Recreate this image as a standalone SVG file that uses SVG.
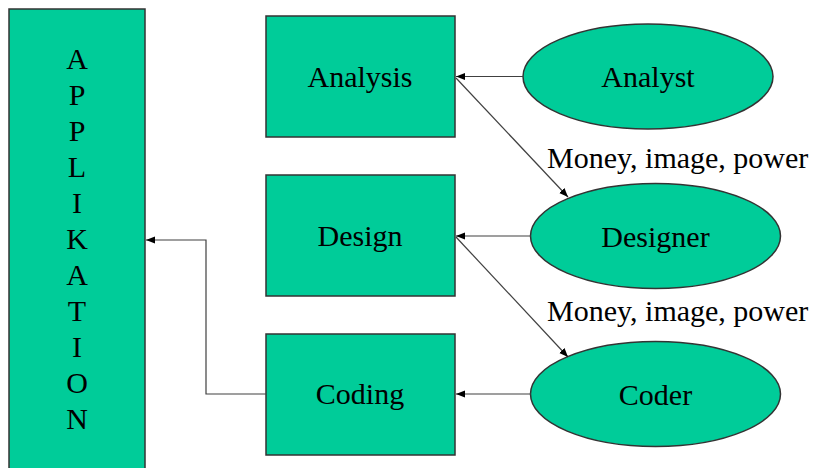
<svg xmlns="http://www.w3.org/2000/svg" width="814" height="468" viewBox="0 0 814 468">
  <style>
    .box { fill: #00CC99; stroke: #333333; stroke-width: 1.5; }
    .lbl { font-family: "Liberation Serif", "Times New Roman", serif; font-size: 30px; fill: #000000; text-anchor: middle; }
    .note { font-family: "Liberation Serif", "Times New Roman", serif; font-size: 30px; fill: #000000; }
    .link { fill: none; stroke: #404040; stroke-width: 1.2; marker-end: url(#head); }
  </style>
  <defs>
    <marker id="head" viewBox="0 0 10 10" refX="10" refY="5" markerWidth="9" markerHeight="9" markerUnits="userSpaceOnUse" orient="auto">
      <path d="M0,1 L10,5 L0,9 Z" fill="#000000"/>
    </marker>
  </defs>
  <rect width="814" height="468" fill="#ffffff"/>

  <!-- tall application bar with its letters stacked one per line -->
  <g id="applikation">
    <rect class="box" x="9" y="9" width="136" height="470"/>
    <text class="lbl" x="77" y="69">A</text>
    <text class="lbl" x="77" y="105">P</text>
    <text class="lbl" x="77" y="141">P</text>
    <text class="lbl" x="77" y="177">L</text>
    <text class="lbl" x="77" y="213">I</text>
    <text class="lbl" x="77" y="249">K</text>
    <text class="lbl" x="77" y="285">A</text>
    <text class="lbl" x="77" y="321">T</text>
    <text class="lbl" x="77" y="357">I</text>
    <text class="lbl" x="77" y="393">O</text>
    <text class="lbl" x="77" y="429">N</text>
  </g>

  <!-- process steps -->
  <g id="analysis">
    <rect class="box" x="266" y="16" width="189" height="121"/>
    <text class="lbl" x="360" y="86.5">Analysis</text>
  </g>
  <g id="design">
    <rect class="box" x="266" y="175" width="189" height="121"/>
    <text class="lbl" x="360" y="245.5">Design</text>
  </g>
  <g id="coding">
    <rect class="box" x="266" y="334" width="189" height="121"/>
    <text class="lbl" x="360" y="403.5">Coding</text>
  </g>

  <!-- roles -->
  <g id="analyst">
    <ellipse class="box" cx="648" cy="76.5" rx="125" ry="52.5"/>
    <text class="lbl" x="648" y="87">Analyst</text>
  </g>
  <g id="designer">
    <ellipse class="box" cx="655.5" cy="236" rx="125" ry="52.5"/>
    <text class="lbl" x="655.5" y="246.5">Designer</text>
  </g>
  <g id="coder">
    <ellipse class="box" cx="655.5" cy="394" rx="125" ry="52.5"/>
    <text class="lbl" x="655.5" y="404.5">Coder</text>
  </g>

  <g id="connectors">
    <path class="link" d="M523,76.5 H456"/>
    <path class="link" d="M531,236 H456"/>
    <path class="link" d="M531,394 H456"/>
    <path class="link" d="M456,78 L568,197"/>
    <path class="link" d="M456,237 L568,357"/>
    <path class="link" d="M266,394 H206 V240 H146"/>
    <text class="note" x="547" y="168">Money, image, power</text>
    <text class="note" x="547" y="321">Money, image, power</text>
  </g>
</svg>
